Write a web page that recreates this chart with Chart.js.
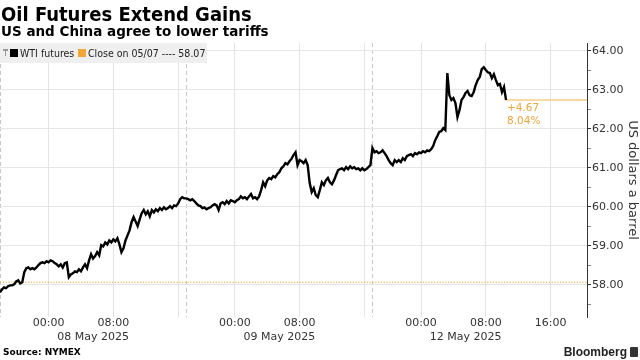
<!DOCTYPE html>
<html>
<head>
<meta charset="utf-8">
<script src="https://cdn.jsdelivr.net/npm/chart.js@4.4.1/dist/chart.umd.min.js"></script>
<style>
  body { margin: 0; width: 640px; height: 360px; position: relative; overflow: hidden; background: #fff; font-family: "DejaVu Sans", sans-serif; }
  #grafica { position: absolute; left: 0; top: 0; }
  .titulo { position: absolute; left: 1px; top: 4px; font: bold 20px/20px "DejaVu Sans Condensed", "DejaVu Sans"; color: #000; white-space: nowrap; }
  .subtitulo { position: absolute; left: 1px; top: 24px; font: bold 13.5px/14px "DejaVu Sans", sans-serif; color: #000; white-space: nowrap; }
  .leyenda { position: absolute; left: 0; top: 43px; width: 207px; height: 20px; background: #efefef; font: 10.5px/20px "DejaVu Sans Condensed", "DejaVu Sans"; color: #222; }
  .leyenda span { position: absolute; top: 0; white-space: nowrap; }
  .cuadro { position: absolute; top: 6px; width: 8px; height: 8px; }
  .pin { position: absolute; left: 3px; top: 6px; width: 5px; height: 7px; border-top: 2px solid #999; box-sizing: border-box; }
  .pin::after { content: ""; position: absolute; left: 2px; top: 0; width: 1px; height: 5px; background: #999; }
  .fuente { position: absolute; left: 3px; top: 346px; font: bold 9px/12px "DejaVu Sans", sans-serif; color: #000; }
  .marca { position: absolute; right: 13px; top: 345px; font: bold 12px/14px "Liberation Sans", sans-serif; color: #222; }
  .logo { position: absolute; right: 2px; top: 347px; width: 8px; height: 10px; background: #333; border-radius: 1px; }
</style>
</head>
<body>
<canvas id="grafica" width="640" height="360"></canvas>
<div class="titulo">Oil Futures Extend Gains</div>
<div class="subtitulo">US and China agree to lower tariffs</div>
<div class="leyenda">
  <div class="pin"></div>
  <div class="cuadro" style="left:10px;background:#000"></div>
  <span style="left:20px">WTI futures</span>
  <div class="cuadro" style="left:78px;background:#f4a736"></div>
  <span style="left:88px">Close on 05/07 ---- 58.07</span>
</div>
<div class="fuente">Source: NYMEX</div>
<div class="marca">Bloomberg</div>
<div class="logo"></div>
<script>
//15 minute prices, hours counted from 18:00 May 7 with the weekend removed
const START_HOUR = 0;
const STEP_HOURS = 0.25;
const PRICES = [
  57.81, 57.89, 57.94, 57.92, 57.97, 57.99, 57.99, 58.02, 58.09, 58.12,
  58.04, 58.07, 58.33, 58.43, 58.45, 58.40, 58.43, 58.40, 58.45, 58.51,
  58.56, 58.58, 58.56, 58.61, 58.58, 58.63, 58.61, 58.56, 58.53, 58.48,
  58.53, 58.45, 58.56, 58.58, 58.20, 58.27, 58.30, 58.35, 58.33, 58.40,
  58.35, 58.45, 58.53, 58.43, 58.63, 58.79, 58.68, 58.74, 58.84, 58.76,
  59.02, 58.99, 59.09, 59.04, 59.14, 59.09, 59.17, 59.12, 59.20, 59.04,
  58.84, 58.94, 59.14, 59.27, 59.40, 59.61, 59.74, 59.63, 59.51, 59.68,
  59.84, 59.92, 59.81, 59.89, 59.76, 59.92, 59.86, 59.94, 59.89, 59.97,
  59.92, 59.99, 59.94, 59.97, 60.02, 59.97, 60.04, 60.02, 60.09, 60.20,
  60.25, 60.22, 60.22, 60.20, 60.17, 60.20, 60.15, 60.09, 60.04, 60.02,
  59.97, 59.99, 59.94, 59.97, 59.99, 60.04, 60.07, 60.04, 59.92, 60.09,
  60.12, 60.07, 60.15, 60.09, 60.17, 60.15, 60.12, 60.17, 60.20, 60.27,
  60.22, 60.25, 60.20, 60.27, 60.33, 60.22, 60.25, 60.20, 60.27, 60.43,
  60.63, 60.53, 60.68, 60.74, 60.71, 60.79, 60.76, 60.84, 60.89, 60.99,
  61.04, 61.12, 61.09, 61.17, 61.23, 61.33, 61.40, 61.07, 61.20, 61.17,
  61.12, 61.20, 61.07, 60.61, 60.38, 60.48, 60.30, 60.25, 60.43, 60.63,
  60.56, 60.68, 60.74, 60.63, 60.58, 60.68, 60.81, 60.94, 60.97, 60.99,
  60.94, 61.02, 60.97, 61.04, 60.99, 61.02, 60.97, 60.99, 60.94, 60.99,
  60.94, 60.97, 61.02, 61.07, 61.51, 61.40, 61.43, 61.38, 61.40, 61.45,
  61.38, 61.30, 61.20, 61.12, 61.07, 61.20, 61.15, 61.20, 61.15, 61.25,
  61.20, 61.30, 61.33, 61.35, 61.30, 61.38, 61.35, 61.40, 61.38, 61.43,
  61.40, 61.45, 61.43, 61.48, 61.56, 61.71, 61.81, 61.92, 61.94, 62.02,
  61.97, 63.43, 62.86, 62.74, 62.79, 62.66, 62.30, 62.48, 62.74, 62.81,
  62.92, 62.97, 62.86, 62.84, 62.94, 63.12, 63.25, 63.33, 63.53, 63.58,
  63.51, 63.45, 63.43, 63.30, 63.40, 63.25, 63.12, 63.15, 62.94, 63.07,
  62.74,
];
const CLOSE = 58.07;

const X_MIN = 0;
const X_MAX = 72.5;
const X_TICKS = [0, 6, 14, 22, 23, 29, 37, 45, 46, 52, 60, 68];
const X_LABELS = ["", "00:00", "08:00", "", "", "00:00", "08:00", "", "", "00:00", "08:00", "16:00"];
const SESSION_BREAKS = [0, 23, 46];
const DATE_TICKS = [11.5, 34.5, 57.5];
const DATE_LABELS = ["08 May 2025", "09 May 2025", "12 May 2025"];
const Y_MIN = 57.18;
const Y_MAX = 64.2;
const Y_TICKS = [57.5, 58, 58.5, 59, 59.5, 60, 60.5, 61, 61.5, 62, 62.5, 63, 63.5, 64];

const NARANJA = "#f2a12a";
const TEXTO = "#333";
const FUENTE_EJE = { family: "DejaVu Sans", size: 11 };

const lastHour = START_HOUR + (PRICES.length - 1) * STEP_HOURS;
const lastPrice = PRICES[PRICES.length - 1];

const etiquetaCambio = {
  id: "etiquetaCambio",
  afterDatasetsDraw(chart) {
    const { ctx, scales } = chart;
    const px = scales.x.getPixelForValue(lastHour);
    const py = scales.y.getPixelForValue(lastPrice);
    const diff = lastPrice - CLOSE;
    ctx.save();
    ctx.fillStyle = "#f0a43a";
    ctx.font = '10.5px "DejaVu Sans"';
    ctx.textBaseline = "middle";
    ctx.fillText("+" + diff.toFixed(2), px + 1, py + 8);
    ctx.fillText(((diff / CLOSE) * 100).toFixed(2) + "%", px + 1, py + 21);
    ctx.restore();
  },
};

const isInt = (v) => Math.abs(v - Math.round(v)) < 1e-6;

new Chart(document.getElementById("grafica"), {
  type: "line",
  data: {
    datasets: [
      {
        label: "WTI futures",
        data: PRICES.map((p, i) => ({ x: START_HOUR + i * STEP_HOURS, y: p })),
        borderColor: "#000",
        borderWidth: 2.4,
        pointRadius: 0,
        tension: 0,
        xAxisID: "x",
        yAxisID: "y",
      },
      {
        label: "Close on 05/07",
        data: [{ x: X_MIN, y: CLOSE }, { x: X_MAX, y: CLOSE }],
        borderColor: NARANJA,
        borderWidth: 1.2,
        borderDash: [1.2, 1.6],
        pointRadius: 0,
        xAxisID: "x",
        yAxisID: "y",
      },
      {
        label: "last",
        data: [{ x: lastHour, y: lastPrice }, { x: X_MAX, y: lastPrice }],
        borderColor: "#f8cc85",
        borderWidth: 1.5,
        pointRadius: 0,
        xAxisID: "x",
        yAxisID: "y",
      },
    ],
  },
  options: {
    responsive: false,
    animation: false,
    layout: { padding: { top: 43, left: 0, right: 0, bottom: 15 } },
    plugins: { legend: { display: false }, tooltip: { enabled: false } },
    scales: {
      x: {
        type: "linear",
        position: "bottom",
        weight: 0,
        min: X_MIN,
        max: X_MAX,
        afterBuildTicks: (s) => { s.ticks = X_TICKS.map((v) => ({ value: v })); },
        afterFit: (s) => { s.height = 14; },
        grid: {
          drawTicks: false,
          color: (c) => (c.tick && SESSION_BREAKS.includes(c.tick.value) ? "#c8c8c8" : "#e4e4e4"),
        },
        border: {
          display: false,
          dash: (c) => (c.tick && SESSION_BREAKS.includes(c.tick.value) ? [4, 3] : []),
        },
        ticks: {
          autoSkip: false,
          maxRotation: 0,
          padding: 0,
          color: TEXTO,
          font: FUENTE_EJE,
          callback: (v) => X_LABELS[X_TICKS.indexOf(v)] ?? "",
        },
      },
      x2: {
        type: "linear",
        position: "bottom",
        weight: 1,
        min: X_MIN,
        max: X_MAX,
        afterBuildTicks: (s) => { s.ticks = DATE_TICKS.map((v) => ({ value: v })); },
        afterFit: (s) => { s.height = 14; },
        grid: { display: false, drawTicks: false },
        border: { display: false },
        ticks: {
          autoSkip: false,
          maxRotation: 0,
          padding: 0,
          color: TEXTO,
          font: FUENTE_EJE,
          callback: (v) => DATE_LABELS[DATE_TICKS.indexOf(v)] ?? "",
        },
      },
      y: {
        type: "linear",
        position: "right",
        min: Y_MIN,
        max: Y_MAX,
        afterBuildTicks: (s) => { s.ticks = Y_TICKS.map((v) => ({ value: v })); },
        afterFit: (s) => { s.width = 53; },
        grid: {
          color: (c) => (c.tick && isInt(c.tick.value) ? "#e6e6e6" : "rgba(0,0,0,0)"),
          tickColor: (c) => (c.tick && isInt(c.tick.value) ? "#333" : "#888"),
          tickLength: 4,
        },
        border: { display: true, color: "#333", width: 1 },
        ticks: {
          autoSkip: false,
          padding: 1,
          color: TEXTO,
          font: FUENTE_EJE,
          callback: (v) => (isInt(v) ? v.toFixed(2) : ""),
        },
        title: {
          display: true,
          text: "US dollars a barrel",
          color: TEXTO,
          font: { family: "DejaVu Sans", size: 13 },
          padding: { top: 0, bottom: 2 },
        },
      },
    },
  },
  plugins: [etiquetaCambio],
});
</script>
</body>
</html>
